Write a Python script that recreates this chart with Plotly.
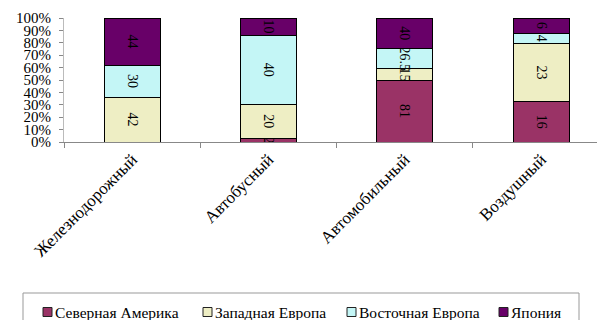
import plotly.graph_objects as go

categories = ["Железнодорожный", "Автобусный", "Автомобильный", "Воздушный"]
series_names = ["Северная Америка", "Западная Европа", "Восточная Европа", "Япония"]
north_america = [0, 2, 81, 16]
west_europe = [42, 20, 15, 23]
east_europe = [30, 40, 26.5, 4]
japan = [44, 10, 40, 6]
colors = ["#9A3366", "#EEEEC4", "#C4F6F6", "#680068"]
y_ticks = list(range(0, 101, 10))
y_tick_labels = [f"{v}%" for v in y_ticks]

serif = "Liberation Serif, Times New Roman, serif"

# plot area in pixels (for placing the hand-made legend)
W, H = 597, 320
L, R, T, B = 64, 0, 18, 178
pw, ph = W - L - R, H - T - B


def px_x(px):
    return (px - L) / pw


def px_y(py):
    return (H - B - py) / ph


fig = go.Figure()
for name, vals, col in zip(series_names, [north_america, west_europe, east_europe, japan], colors):
    txt = ["" if v == 0 else (str(v) if not float(v).is_integer() else str(int(v))) for v in vals]
    fig.add_trace(go.Bar(
        x=categories, y=vals, name=name, text=txt,
        textposition="inside", textangle=90, insidetextanchor="middle",
        constraintext="none",
        textfont=dict(family=serif, size=14, color="black"),
        marker=dict(color=col, line=dict(color="black", width=1)),
        width=0.41,
    ))

# legend (box, swatches, labels)
shapes = [dict(type="rect", xref="paper", yref="paper",
               x0=px_x(23), x1=px_x(579), y0=px_y(322), y1=px_y(293),
               line=dict(color="#999999", width=1), fillcolor="white", layer="below")]
annotations = []
sym_x = [43, 203, 347, 499]
for sx, name, col in zip(sym_x, series_names, colors):
    shapes.append(dict(type="rect", xref="paper", yref="paper",
                       x0=px_x(sx), x1=px_x(sx + 9), y0=px_y(316.5), y1=px_y(307.5),
                       line=dict(color="#222222", width=1), fillcolor=col))
    annotations.append(dict(xref="paper", yref="paper", x=px_x(sx + 10), y=px_y(312),
                            xanchor="left", yanchor="middle", text=name, showarrow=False,
                            font=dict(family=serif, size=15.5, color="black")))

fig.update_layout(
    barmode="stack", barnorm="percent",
    width=W, height=H,
    margin=dict(l=L, r=R, t=T, b=B),
    paper_bgcolor="white", plot_bgcolor="white",
    font=dict(family=serif, size=14, color="black"),
    showlegend=False,
    shapes=shapes,
    annotations=annotations,
    xaxis=dict(
        type="category", range=[-0.5, 3.41], tickson="boundaries",
        ticks="outside", ticklen=5, tickcolor="#888888",
        showline=True, linecolor="#888888", linewidth=1,
        tickangle=-45, tickfont=dict(family=serif, size=17),
    ),
    yaxis=dict(
        range=[0, 100], tickvals=y_ticks, ticktext=y_tick_labels,
        ticks="outside", ticklen=4, tickcolor="#888888",
        ticklabelstandoff=5,
        showline=True, linecolor="#bbbbbb", linewidth=1,
        showgrid=False, zeroline=False,
        tickfont=dict(family=serif, size=15),
    ),
)

fig.write_html("out.html")
